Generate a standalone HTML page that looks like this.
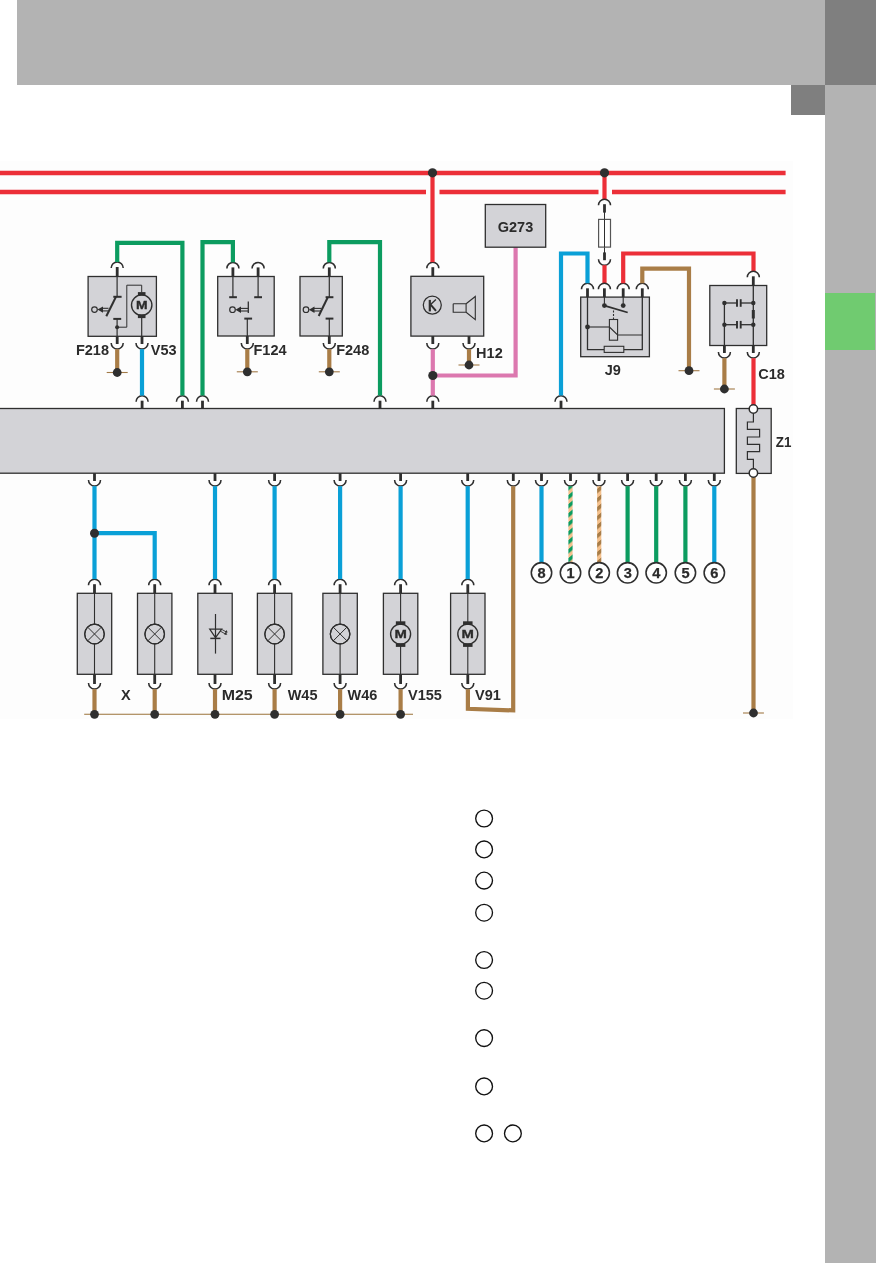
<!DOCTYPE html><html><head><meta charset="utf-8"><style>html,body{margin:0;padding:0;background:#fff;}body{width:893px;height:1263px;position:relative;overflow:hidden;font-family:"Liberation Sans",sans-serif;}</style></head><body><svg width="893" height="1263" viewBox="0 0 893 1263" style="position:absolute;left:0;top:0;will-change:transform" font-family="Liberation Sans, sans-serif">
<rect x="17" y="0" width="808" height="85" fill="#b3b3b3"/>
<rect x="825" y="0" width="51" height="85" fill="#7f7f7f"/>
<rect x="791" y="85" width="34" height="30" fill="#7f7f7f"/>
<rect x="825" y="85" width="51" height="1178" fill="#b3b3b3"/>
<rect x="825" y="293" width="50" height="57" fill="#70cb70"/>
<rect x="0" y="161" width="793" height="558" fill="#fdfdfd"/>
<path d="M0,173 L785.6,173" fill="none" stroke="#ec2f38" stroke-width="4.6" stroke-linejoin="miter" stroke-linecap="butt"/>
<path d="M0,192 L426,192" fill="none" stroke="#ec2f38" stroke-width="4.6" stroke-linejoin="miter" stroke-linecap="butt"/>
<path d="M439.5,192 L598.5,192" fill="none" stroke="#ec2f38" stroke-width="4.6" stroke-linejoin="miter" stroke-linecap="butt"/>
<path d="M612,192 L785.6,192" fill="none" stroke="#ec2f38" stroke-width="4.6" stroke-linejoin="miter" stroke-linecap="butt"/>
<rect x="-2" y="408.5" width="726.4" height="64.69999999999999" fill="#d3d3d7" stroke="#2f2f2f" stroke-width="1.3"/>
<rect x="140.7" y="400.7" width="2.8" height="7.800000000000011" fill="#2f2f2f"/>
<path d="M136.1,401.7 A6.0,6.0 0 0 1 148.1,401.7" fill="none" stroke="#2f2f2f" stroke-width="1.55"/>
<rect x="181.0" y="400.7" width="2.8" height="7.800000000000011" fill="#2f2f2f"/>
<path d="M176.4,401.7 A6.0,6.0 0 0 1 188.4,401.7" fill="none" stroke="#2f2f2f" stroke-width="1.55"/>
<rect x="201.1" y="400.7" width="2.8" height="7.800000000000011" fill="#2f2f2f"/>
<path d="M196.5,401.7 A6.0,6.0 0 0 1 208.5,401.7" fill="none" stroke="#2f2f2f" stroke-width="1.55"/>
<rect x="378.6" y="400.7" width="2.8" height="7.800000000000011" fill="#2f2f2f"/>
<path d="M374.0,401.7 A6.0,6.0 0 0 1 386.0,401.7" fill="none" stroke="#2f2f2f" stroke-width="1.55"/>
<rect x="431.40000000000003" y="400.7" width="2.8" height="7.800000000000011" fill="#2f2f2f"/>
<path d="M426.8,401.7 A6.0,6.0 0 0 1 438.8,401.7" fill="none" stroke="#2f2f2f" stroke-width="1.55"/>
<rect x="559.6" y="400.7" width="2.8" height="7.800000000000011" fill="#2f2f2f"/>
<path d="M555.0,401.7 A6.0,6.0 0 0 1 567.0,401.7" fill="none" stroke="#2f2f2f" stroke-width="1.55"/>
<rect x="93.1" y="473.2" width="2.8" height="7.800000000000011" fill="#2f2f2f"/>
<path d="M88.5,480.0 A6.0,6.0 0 0 0 100.5,480.0" fill="none" stroke="#2f2f2f" stroke-width="1.55"/>
<rect x="213.6" y="473.2" width="2.8" height="7.800000000000011" fill="#2f2f2f"/>
<path d="M209.0,480.0 A6.0,6.0 0 0 0 221.0,480.0" fill="none" stroke="#2f2f2f" stroke-width="1.55"/>
<rect x="273.20000000000005" y="473.2" width="2.8" height="7.800000000000011" fill="#2f2f2f"/>
<path d="M268.6,480.0 A6.0,6.0 0 0 0 280.6,480.0" fill="none" stroke="#2f2f2f" stroke-width="1.55"/>
<rect x="338.70000000000005" y="473.2" width="2.8" height="7.800000000000011" fill="#2f2f2f"/>
<path d="M334.1,480.0 A6.0,6.0 0 0 0 346.1,480.0" fill="none" stroke="#2f2f2f" stroke-width="1.55"/>
<rect x="399.20000000000005" y="473.2" width="2.8" height="7.800000000000011" fill="#2f2f2f"/>
<path d="M394.6,480.0 A6.0,6.0 0 0 0 406.6,480.0" fill="none" stroke="#2f2f2f" stroke-width="1.55"/>
<rect x="466.3" y="473.2" width="2.8" height="7.800000000000011" fill="#2f2f2f"/>
<path d="M461.7,480.0 A6.0,6.0 0 0 0 473.7,480.0" fill="none" stroke="#2f2f2f" stroke-width="1.55"/>
<rect x="511.9" y="473.2" width="2.8" height="7.800000000000011" fill="#2f2f2f"/>
<path d="M507.29999999999995,480.0 A6.0,6.0 0 0 0 519.3,480.0" fill="none" stroke="#2f2f2f" stroke-width="1.55"/>
<rect x="540.1" y="473.2" width="2.8" height="7.800000000000011" fill="#2f2f2f"/>
<path d="M535.5,480.0 A6.0,6.0 0 0 0 547.5,480.0" fill="none" stroke="#2f2f2f" stroke-width="1.55"/>
<rect x="569.1" y="473.2" width="2.8" height="7.800000000000011" fill="#2f2f2f"/>
<path d="M564.5,480.0 A6.0,6.0 0 0 0 576.5,480.0" fill="none" stroke="#2f2f2f" stroke-width="1.55"/>
<rect x="597.6" y="473.2" width="2.8" height="7.800000000000011" fill="#2f2f2f"/>
<path d="M593.0,480.0 A6.0,6.0 0 0 0 605.0,480.0" fill="none" stroke="#2f2f2f" stroke-width="1.55"/>
<rect x="626.2" y="473.2" width="2.8" height="7.800000000000011" fill="#2f2f2f"/>
<path d="M621.6,480.0 A6.0,6.0 0 0 0 633.6,480.0" fill="none" stroke="#2f2f2f" stroke-width="1.55"/>
<rect x="654.8000000000001" y="473.2" width="2.8" height="7.800000000000011" fill="#2f2f2f"/>
<path d="M650.2,480.0 A6.0,6.0 0 0 0 662.2,480.0" fill="none" stroke="#2f2f2f" stroke-width="1.55"/>
<rect x="684.0" y="473.2" width="2.8" height="7.800000000000011" fill="#2f2f2f"/>
<path d="M679.4,480.0 A6.0,6.0 0 0 0 691.4,480.0" fill="none" stroke="#2f2f2f" stroke-width="1.55"/>
<rect x="712.9" y="473.2" width="2.8" height="7.800000000000011" fill="#2f2f2f"/>
<path d="M708.3,480.0 A6.0,6.0 0 0 0 720.3,480.0" fill="none" stroke="#2f2f2f" stroke-width="1.55"/>
<rect x="88.1" y="276.5" width="68.30000000000001" height="59.80000000000001" fill="#d3d3d7" stroke="#2f2f2f" stroke-width="1.3"/>
<rect x="115.8" y="267" width="2.8" height="9.5" fill="#2f2f2f"/>
<path d="M111.2,268 A6.0,6.0 0 0 1 123.2,268" fill="none" stroke="#2f2f2f" stroke-width="1.55"/>
<rect x="115.8" y="336.3" width="2.8" height="7.699999999999989" fill="#2f2f2f"/>
<path d="M111.2,343 A6.0,6.0 0 0 0 123.2,343" fill="none" stroke="#2f2f2f" stroke-width="1.55"/>
<rect x="140.6" y="336.3" width="2.8" height="7.699999999999989" fill="#2f2f2f"/>
<path d="M136.0,343 A6.0,6.0 0 0 0 148.0,343" fill="none" stroke="#2f2f2f" stroke-width="1.55"/>
<path d="M117.2,262 L117.2,242.8 L182.4,242.8 L182.4,395.6" fill="none" stroke="#0c9c60" stroke-width="4.2" stroke-linejoin="miter" stroke-linecap="butt"/>
<path d="M117.2,349.2 L117.2,372.5" fill="none" stroke="#a97d47" stroke-width="4.2" stroke-linejoin="miter" stroke-linecap="butt"/>
<line x1="106.7" y1="372.5" x2="127.7" y2="372.5" stroke="#a27a48" stroke-width="1.1"/>
<circle cx="117.2" cy="372.5" r="4.4" fill="#2f2f2f"/>
<path d="M142.0,349.2 L142.0,395.6" fill="none" stroke="#0aa0d7" stroke-width="4.2" stroke-linejoin="miter" stroke-linecap="butt"/>
<line x1="117.1" y1="276.5" x2="117.1" y2="296.8" stroke="#2f2f2f" stroke-width="1.2"/>
<line x1="113.3" y1="296.8" x2="121.6" y2="296.8" stroke="#2f2f2f" stroke-width="2.0"/>
<line x1="116.0" y1="296.8" x2="106.3" y2="316.3" stroke="#2f2f2f" stroke-width="2.0"/>
<circle cx="94.5" cy="309.6" r="2.8" fill="none" stroke="#2f2f2f" stroke-width="1.2"/>
<path d="M97.4,309.6 L103.0,306.40000000000003 L103.0,312.8 Z" fill="#2f2f2f"/>
<line x1="102.0" y1="308.3" x2="108.5" y2="308.3" stroke="#2f2f2f" stroke-width="1.1"/>
<line x1="102.0" y1="310.90000000000003" x2="108.5" y2="310.90000000000003" stroke="#2f2f2f" stroke-width="1.1"/>
<line x1="113.3" y1="318.9" x2="121.2" y2="318.9" stroke="#2f2f2f" stroke-width="2.0"/>
<line x1="117.1" y1="318.9" x2="117.1" y2="336.3" stroke="#2f2f2f" stroke-width="1.2"/>
<circle cx="117.1" cy="327.2" r="2.0" fill="#2f2f2f"/>
<path d="M117.1,327.2 L126.8,327.2 L126.8,285.2 L141.7,285.2 L141.7,292.5" fill="none" stroke="#2f2f2f" stroke-width="1.0"/>
<circle cx="141.7" cy="305.1" r="10.2" fill="none" stroke="#2f2f2f" stroke-width="1.4"/>
<rect x="137.89999999999998" y="292.1" width="7.6" height="3.6" fill="#2f2f2f"/>
<rect x="137.89999999999998" y="314.5" width="7.6" height="3.6" fill="#2f2f2f"/>
<text x="141.7" y="308.70000000000005" font-size="10" font-weight="bold" text-anchor="middle" fill="#2b2b2b" stroke="#2b2b2b" stroke-width="0.3" textLength="11.6" lengthAdjust="spacingAndGlyphs">M</text>
<line x1="141.7" y1="318" x2="141.7" y2="336.3" stroke="#2f2f2f" stroke-width="1.2"/>
<text class="t" x="109" y="354.5" font-size="14.5" font-weight="bold" text-anchor="end" fill="#2b2b2b">F218</text>
<text class="t" x="150.8" y="354.5" font-size="14.5" font-weight="bold" text-anchor="start" fill="#2b2b2b">V53</text>
<rect x="217.7" y="276.5" width="56.5" height="59.5" fill="#d3d3d7" stroke="#2f2f2f" stroke-width="1.3"/>
<rect x="231.5" y="267.4" width="2.8" height="9.100000000000023" fill="#2f2f2f"/>
<path d="M226.9,268.4 A6.0,6.0 0 0 1 238.9,268.4" fill="none" stroke="#2f2f2f" stroke-width="1.55"/>
<rect x="256.70000000000005" y="267.4" width="2.8" height="9.100000000000023" fill="#2f2f2f"/>
<path d="M252.10000000000002,268.4 A6.0,6.0 0 0 1 264.1,268.4" fill="none" stroke="#2f2f2f" stroke-width="1.55"/>
<rect x="245.9" y="336.0" width="2.8" height="8.0" fill="#2f2f2f"/>
<path d="M241.3,343 A6.0,6.0 0 0 0 253.3,343" fill="none" stroke="#2f2f2f" stroke-width="1.55"/>
<path d="M202.5,395.6 L202.5,242.2 L232.9,242.2 L232.9,262.3" fill="none" stroke="#0c9c60" stroke-width="4.2" stroke-linejoin="miter" stroke-linecap="butt"/>
<path d="M247.3,349.2 L247.3,371.8" fill="none" stroke="#a97d47" stroke-width="4.2" stroke-linejoin="miter" stroke-linecap="butt"/>
<line x1="236.8" y1="371.8" x2="257.8" y2="371.8" stroke="#a27a48" stroke-width="1.1"/>
<circle cx="247.3" cy="371.8" r="4.4" fill="#2f2f2f"/>
<line x1="232.9" y1="276.5" x2="232.9" y2="297.2" stroke="#2f2f2f" stroke-width="1.2"/>
<line x1="229.2" y1="297.2" x2="236.9" y2="297.2" stroke="#2f2f2f" stroke-width="2.0"/>
<line x1="258.1" y1="276.5" x2="258.1" y2="297.2" stroke="#2f2f2f" stroke-width="1.2"/>
<line x1="254.2" y1="297.2" x2="262.0" y2="297.2" stroke="#2f2f2f" stroke-width="2.0"/>
<line x1="248.3" y1="301.6" x2="248.3" y2="313" stroke="#2f2f2f" stroke-width="1.3"/>
<circle cx="232.5" cy="309.7" r="2.8" fill="none" stroke="#2f2f2f" stroke-width="1.2"/>
<path d="M235.4,309.7 L241.0,306.5 L241.0,312.9 Z" fill="#2f2f2f"/>
<line x1="240.0" y1="308.4" x2="248.3" y2="308.4" stroke="#2f2f2f" stroke-width="1.1"/>
<line x1="240.0" y1="311.0" x2="248.3" y2="311.0" stroke="#2f2f2f" stroke-width="1.1"/>
<line x1="244.3" y1="318.6" x2="252.1" y2="318.6" stroke="#2f2f2f" stroke-width="2.0"/>
<line x1="247.3" y1="318.6" x2="247.3" y2="336.0" stroke="#2f2f2f" stroke-width="1.2"/>
<text class="t" x="253.5" y="354.6" font-size="14.5" font-weight="bold" text-anchor="start" fill="#2b2b2b">F124</text>
<rect x="300.0" y="276.5" width="42.30000000000001" height="59.5" fill="#d3d3d7" stroke="#2f2f2f" stroke-width="1.3"/>
<rect x="327.90000000000003" y="267.4" width="2.8" height="9.100000000000023" fill="#2f2f2f"/>
<path d="M323.3,268.4 A6.0,6.0 0 0 1 335.3,268.4" fill="none" stroke="#2f2f2f" stroke-width="1.55"/>
<rect x="327.90000000000003" y="336.0" width="2.8" height="8.0" fill="#2f2f2f"/>
<path d="M323.3,343 A6.0,6.0 0 0 0 335.3,343" fill="none" stroke="#2f2f2f" stroke-width="1.55"/>
<path d="M329.3,262.3 L329.3,242.2 L380,242.2 L380,395.6" fill="none" stroke="#0c9c60" stroke-width="4.2" stroke-linejoin="miter" stroke-linecap="butt"/>
<path d="M329.3,349.2 L329.3,371.8" fill="none" stroke="#a97d47" stroke-width="4.2" stroke-linejoin="miter" stroke-linecap="butt"/>
<line x1="318.8" y1="371.8" x2="339.8" y2="371.8" stroke="#a27a48" stroke-width="1.1"/>
<circle cx="329.3" cy="371.8" r="4.4" fill="#2f2f2f"/>
<line x1="329.3" y1="276.5" x2="329.3" y2="297.2" stroke="#2f2f2f" stroke-width="1.2"/>
<line x1="325.6" y1="297.2" x2="333.4" y2="297.2" stroke="#2f2f2f" stroke-width="2.0"/>
<line x1="327.8" y1="297.2" x2="318.7" y2="316" stroke="#2f2f2f" stroke-width="2.0"/>
<circle cx="306" cy="309.7" r="2.8" fill="none" stroke="#2f2f2f" stroke-width="1.2"/>
<path d="M308.9,309.7 L314.5,306.5 L314.5,312.9 Z" fill="#2f2f2f"/>
<line x1="313.5" y1="308.4" x2="321.5" y2="308.4" stroke="#2f2f2f" stroke-width="1.1"/>
<line x1="313.5" y1="311.0" x2="321.5" y2="311.0" stroke="#2f2f2f" stroke-width="1.1"/>
<line x1="325.6" y1="318.6" x2="333.4" y2="318.6" stroke="#2f2f2f" stroke-width="2.0"/>
<line x1="329.3" y1="318.6" x2="329.3" y2="336.0" stroke="#2f2f2f" stroke-width="1.2"/>
<text class="t" x="336.2" y="354.6" font-size="14.5" font-weight="bold" text-anchor="start" fill="#2b2b2b">F248</text>
<rect x="410.9" y="276.3" width="72.80000000000001" height="59.80000000000001" fill="#d3d3d7" stroke="#2f2f2f" stroke-width="1.3"/>
<rect x="431.40000000000003" y="267.2" width="2.8" height="9.100000000000023" fill="#2f2f2f"/>
<path d="M426.8,268.2 A6.0,6.0 0 0 1 438.8,268.2" fill="none" stroke="#2f2f2f" stroke-width="1.55"/>
<rect x="431.40000000000003" y="336.1" width="2.8" height="7.899999999999977" fill="#2f2f2f"/>
<path d="M426.8,343 A6.0,6.0 0 0 0 438.8,343" fill="none" stroke="#2f2f2f" stroke-width="1.55"/>
<rect x="467.6" y="336.1" width="2.8" height="7.899999999999977" fill="#2f2f2f"/>
<path d="M463.0,343 A6.0,6.0 0 0 0 475.0,343" fill="none" stroke="#2f2f2f" stroke-width="1.55"/>
<path d="M432.5,173 L432.5,262.1" fill="none" stroke="#ec2f38" stroke-width="4.2" stroke-linejoin="miter" stroke-linecap="butt"/>
<path d="M432.8,349.2 L432.8,395.6" fill="none" stroke="#dc78af" stroke-width="4.2" stroke-linejoin="miter" stroke-linecap="butt"/>
<path d="M432.8,375.5 L515.6,375.5 L515.6,247.2" fill="none" stroke="#dc78af" stroke-width="4.2" stroke-linejoin="miter" stroke-linecap="butt"/>
<circle cx="432.8" cy="375.5" r="4.6" fill="#2f2f2f"/>
<path d="M469.0,349.2 L469.0,365" fill="none" stroke="#a97d47" stroke-width="4.2" stroke-linejoin="miter" stroke-linecap="butt"/>
<line x1="458.5" y1="365" x2="479.5" y2="365" stroke="#a27a48" stroke-width="1.1"/>
<circle cx="469.0" cy="365" r="4.4" fill="#2f2f2f"/>
<circle cx="432.3" cy="305.1" r="9.0" fill="none" stroke="#2f2f2f" stroke-width="1.25"/>
<rect x="428.7" y="299.9" width="2.2" height="11.5" fill="#2f2f2f"/>
<line x1="430.6" y1="304.6" x2="435.9" y2="299.4" stroke="#2f2f2f" stroke-width="1.4"/>
<line x1="430.6" y1="304.6" x2="436.0" y2="310.8" stroke="#2f2f2f" stroke-width="2.0"/>
<path d="M453.2,303.8 L466.1,303.8 L466.1,312.3 L453.2,312.3 L453.2,303.8" fill="none" stroke="#2f2f2f" stroke-width="1.1"/>
<path d="M466.1,303.8 L475.3,296.5 L475.3,319.6 L466.1,312.3" fill="none" stroke="#2f2f2f" stroke-width="1.1"/>
<text class="t" x="476.1" y="357.5" font-size="14.5" font-weight="bold" text-anchor="start" fill="#2b2b2b">H12</text>
<rect x="485.3" y="204.5" width="60.400000000000034" height="42.69999999999999" fill="#d3d3d7" stroke="#2f2f2f" stroke-width="1.3"/>
<text class="t" x="515.5" y="232.2" font-size="14.5" font-weight="bold" text-anchor="middle" fill="#2b2b2b">G273</text>
<path d="M604.5,173 L604.5,199.1" fill="none" stroke="#ec2f38" stroke-width="4.2" stroke-linejoin="miter" stroke-linecap="butt"/>
<rect x="603.1" y="204.2" width="2.8" height="8.400000000000006" fill="#2f2f2f"/>
<path d="M598.5,205.2 A6.0,6.0 0 0 1 610.5,205.2" fill="none" stroke="#2f2f2f" stroke-width="1.55"/>
<line x1="604.5" y1="212" x2="604.5" y2="253" stroke="#2f2f2f" stroke-width="1.0"/>
<rect x="598.6" y="219.4" width="11.9" height="27.7" fill="#ffffff" stroke="#555" stroke-width="1.2"/>
<line x1="604.5" y1="219.4" x2="604.5" y2="247.1" stroke="#2f2f2f" stroke-width="1.0"/>
<rect x="603.1" y="252.4" width="2.8" height="7.799999999999983" fill="#2f2f2f"/>
<path d="M598.5,259.2 A6.0,6.0 0 0 0 610.5,259.2" fill="none" stroke="#2f2f2f" stroke-width="1.55"/>
<path d="M604.5,265.2 L604.5,283.2" fill="none" stroke="#ec2f38" stroke-width="4.2" stroke-linejoin="miter" stroke-linecap="butt"/>
<rect x="580.7" y="297.1" width="68.69999999999993" height="59.599999999999966" fill="#d3d3d7" stroke="#2f2f2f" stroke-width="1.3"/>
<rect x="586.1" y="288.3" width="2.8" height="8.800000000000011" fill="#2f2f2f"/>
<path d="M581.5,289.3 A6.0,6.0 0 0 1 593.5,289.3" fill="none" stroke="#2f2f2f" stroke-width="1.55"/>
<rect x="603.0" y="288.3" width="2.8" height="8.800000000000011" fill="#2f2f2f"/>
<path d="M598.4,289.3 A6.0,6.0 0 0 1 610.4,289.3" fill="none" stroke="#2f2f2f" stroke-width="1.55"/>
<rect x="621.8000000000001" y="288.3" width="2.8" height="8.800000000000011" fill="#2f2f2f"/>
<path d="M617.2,289.3 A6.0,6.0 0 0 1 629.2,289.3" fill="none" stroke="#2f2f2f" stroke-width="1.55"/>
<rect x="640.9" y="288.3" width="2.8" height="8.800000000000011" fill="#2f2f2f"/>
<path d="M636.3,289.3 A6.0,6.0 0 0 1 648.3,289.3" fill="none" stroke="#2f2f2f" stroke-width="1.55"/>
<path d="M561,395.6 L561,253.5 L587.5,253.5 L587.5,283.2" fill="none" stroke="#0aa0d7" stroke-width="4.2" stroke-linejoin="miter" stroke-linecap="butt"/>
<path d="M623.2,283.2 L623.2,253.5 L753.5,253.5 L753.5,271.2" fill="none" stroke="#ec2f38" stroke-width="4.2" stroke-linejoin="miter" stroke-linecap="butt"/>
<path d="M642.3,283.2 L642.3,268.6 L689,268.6 L689,370.7" fill="none" stroke="#a97d47" stroke-width="4.2" stroke-linejoin="miter" stroke-linecap="butt"/>
<line x1="678.5" y1="370.7" x2="699.5" y2="370.7" stroke="#a27a48" stroke-width="1.1"/>
<circle cx="689" cy="370.7" r="4.4" fill="#2f2f2f"/>
<path d="M587.5,297.1 L587.5,349.6 L604.2,349.6" fill="none" stroke="#2f2f2f" stroke-width="1.3"/>
<path d="M623.8,349.6 L642.3,349.6 L642.3,297.1" fill="none" stroke="#2f2f2f" stroke-width="1.3"/>
<rect x="604.2" y="346.3" width="19.6" height="6.1" fill="#d3d3d7" stroke="#2f2f2f" stroke-width="1.1"/>
<circle cx="587.5" cy="327" r="2.4" fill="#2f2f2f"/>
<line x1="587.5" y1="327" x2="609.4" y2="327" stroke="#2f2f2f" stroke-width="1.1"/>
<rect x="609.4" y="319.5" width="8.2" height="20.7" fill="#d3d3d7" stroke="#2f2f2f" stroke-width="1.1"/>
<path d="M609.4,327 L617.6,335 L642.3,335" fill="none" stroke="#2f2f2f" stroke-width="1.1"/>
<line x1="613.5" y1="319.5" x2="613.5" y2="308" stroke="#2f2f2f" stroke-width="1.1" stroke-dasharray="2,1.5"/>
<line x1="604.4" y1="297.1" x2="604.4" y2="305.6" stroke="#2f2f2f" stroke-width="1.1"/>
<line x1="623.2" y1="297.1" x2="623.2" y2="305.6" stroke="#2f2f2f" stroke-width="1.1"/>
<circle cx="604.4" cy="305.6" r="2.4" fill="#2f2f2f"/>
<circle cx="623.2" cy="305.6" r="2.4" fill="#2f2f2f"/>
<line x1="604.4" y1="305.6" x2="627.7" y2="312.5" stroke="#2f2f2f" stroke-width="1.8"/>
<text class="t" x="612.8" y="374.5" font-size="14.5" font-weight="bold" text-anchor="middle" fill="#2b2b2b">J9</text>
<rect x="709.8" y="285.5" width="56.90000000000009" height="60.0" fill="#d3d3d7" stroke="#2f2f2f" stroke-width="1.3"/>
<rect x="751.9" y="276.3" width="2.8" height="9.199999999999989" fill="#2f2f2f"/>
<path d="M747.3,277.3 A6.0,6.0 0 0 1 759.3,277.3" fill="none" stroke="#2f2f2f" stroke-width="1.55"/>
<rect x="723.0" y="345.5" width="2.8" height="7.5" fill="#2f2f2f"/>
<path d="M718.4,352 A6.0,6.0 0 0 0 730.4,352" fill="none" stroke="#2f2f2f" stroke-width="1.55"/>
<rect x="751.9" y="345.5" width="2.8" height="7.5" fill="#2f2f2f"/>
<path d="M747.3,352 A6.0,6.0 0 0 0 759.3,352" fill="none" stroke="#2f2f2f" stroke-width="1.55"/>
<path d="M724.4,358.2 L724.4,389" fill="none" stroke="#a97d47" stroke-width="4.2" stroke-linejoin="miter" stroke-linecap="butt"/>
<line x1="713.9" y1="389" x2="734.9" y2="389" stroke="#a27a48" stroke-width="1.1"/>
<circle cx="724.4" cy="389" r="4.4" fill="#2f2f2f"/>
<path d="M753.5,358.2 L753.5,405" fill="none" stroke="#ec2f38" stroke-width="4.2" stroke-linejoin="miter" stroke-linecap="butt"/>
<line x1="753.3" y1="285.5" x2="753.3" y2="345.5" stroke="#2f2f2f" stroke-width="1.3"/>
<line x1="724.4" y1="303" x2="724.4" y2="345.5" stroke="#2f2f2f" stroke-width="1.3"/>
<line x1="724.4" y1="303" x2="737" y2="303" stroke="#2f2f2f" stroke-width="1.3"/>
<line x1="740.7" y1="303" x2="753.3" y2="303" stroke="#2f2f2f" stroke-width="1.3"/>
<line x1="737" y1="299.2" x2="737" y2="306.8" stroke="#2f2f2f" stroke-width="1.9"/>
<line x1="740.7" y1="299.2" x2="740.7" y2="306.8" stroke="#2f2f2f" stroke-width="1.9"/>
<circle cx="724.4" cy="303" r="2.2" fill="#2f2f2f"/>
<circle cx="753.3" cy="303" r="2.2" fill="#2f2f2f"/>
<line x1="724.4" y1="324.7" x2="737" y2="324.7" stroke="#2f2f2f" stroke-width="1.3"/>
<line x1="740.7" y1="324.7" x2="753.3" y2="324.7" stroke="#2f2f2f" stroke-width="1.3"/>
<line x1="737" y1="320.9" x2="737" y2="328.5" stroke="#2f2f2f" stroke-width="1.9"/>
<line x1="740.7" y1="320.9" x2="740.7" y2="328.5" stroke="#2f2f2f" stroke-width="1.9"/>
<circle cx="724.4" cy="324.7" r="2.2" fill="#2f2f2f"/>
<circle cx="753.3" cy="324.7" r="2.2" fill="#2f2f2f"/>
<rect x="751.8" y="310" width="3" height="8.5" fill="#2f2f2f"/>
<text class="t" x="758.3" y="378.8" font-size="14.5" font-weight="bold" text-anchor="start" fill="#2b2b2b">C18</text>
<rect x="736.3" y="408.5" width="34.90000000000009" height="64.89999999999998" fill="#d3d3d7" stroke="#2f2f2f" stroke-width="1.3"/>
<path d="M753.4,413 L753.4,422 L747.4,422 L747.4,429.3 L759.6,429.3 L759.6,437 L747.4,437 L747.4,444.4 L759.6,444.4 L759.6,451.6 L747.4,451.6 L747.4,459.3 L753.4,459.3 L753.4,469" fill="none" stroke="#2f2f2f" stroke-width="1.2"/>
<path d="M753.5,477 L753.5,713" fill="none" stroke="#a97d47" stroke-width="4.2" stroke-linejoin="miter" stroke-linecap="butt"/>
<circle cx="753.4" cy="409" r="4.2" fill="#fff" stroke="#2f2f2f" stroke-width="1.5"/>
<circle cx="753.4" cy="473" r="4.2" fill="#fff" stroke="#2f2f2f" stroke-width="1.5"/>
<line x1="743.0" y1="713" x2="764.0" y2="713" stroke="#a27a48" stroke-width="1.1"/>
<circle cx="753.5" cy="713" r="4.4" fill="#2f2f2f"/>
<text class="t" x="775.8" y="446.8" font-size="14.5" font-weight="bold" text-anchor="start" fill="#2b2b2b" textLength="15.6" lengthAdjust="spacingAndGlyphs">Z1</text>
<rect x="77.3" y="593.3" width="34.400000000000006" height="81.0" fill="#d3d3d7" stroke="#2f2f2f" stroke-width="1.3"/>
<rect x="93.1" y="584.2" width="2.8" height="9.099999999999909" fill="#2f2f2f"/>
<path d="M88.5,585.2 A6.0,6.0 0 0 1 100.5,585.2" fill="none" stroke="#2f2f2f" stroke-width="1.55"/>
<rect x="93.1" y="674.3" width="2.8" height="9.700000000000045" fill="#2f2f2f"/>
<path d="M88.5,683.0 A6.0,6.0 0 0 0 100.5,683.0" fill="none" stroke="#2f2f2f" stroke-width="1.55"/>
<line x1="94.5" y1="593.3" x2="94.5" y2="674.3" stroke="#2f2f2f" stroke-width="1.1"/>
<circle cx="94.5" cy="634" r="9.8" fill="#d3d3d7" stroke="#2f2f2f" stroke-width="1.2"/>
<circle cx="94.5" cy="634" r="9.8" fill="none" stroke="#2f2f2f" stroke-width="1.2"/>
<line x1="87.57042" y1="627.07042" x2="101.42958" y2="640.92958" stroke="#2f2f2f" stroke-width="1.0"/>
<line x1="87.57042" y1="640.92958" x2="101.42958" y2="627.07042" stroke="#2f2f2f" stroke-width="1.0"/>
<rect x="137.5" y="593.3" width="34.39999999999998" height="81.0" fill="#d3d3d7" stroke="#2f2f2f" stroke-width="1.3"/>
<rect x="153.29999999999998" y="584.2" width="2.8" height="9.099999999999909" fill="#2f2f2f"/>
<path d="M148.7,585.2 A6.0,6.0 0 0 1 160.7,585.2" fill="none" stroke="#2f2f2f" stroke-width="1.55"/>
<rect x="153.29999999999998" y="674.3" width="2.8" height="9.700000000000045" fill="#2f2f2f"/>
<path d="M148.7,683.0 A6.0,6.0 0 0 0 160.7,683.0" fill="none" stroke="#2f2f2f" stroke-width="1.55"/>
<line x1="154.7" y1="593.3" x2="154.7" y2="674.3" stroke="#2f2f2f" stroke-width="1.1"/>
<circle cx="154.7" cy="634" r="9.8" fill="#d3d3d7" stroke="#2f2f2f" stroke-width="1.2"/>
<circle cx="154.7" cy="634" r="9.8" fill="none" stroke="#2f2f2f" stroke-width="1.2"/>
<line x1="147.77042" y1="627.07042" x2="161.62957999999998" y2="640.92958" stroke="#2f2f2f" stroke-width="1.0"/>
<line x1="147.77042" y1="640.92958" x2="161.62957999999998" y2="627.07042" stroke="#2f2f2f" stroke-width="1.0"/>
<rect x="197.8" y="593.3" width="34.39999999999998" height="81.0" fill="#d3d3d7" stroke="#2f2f2f" stroke-width="1.3"/>
<rect x="213.6" y="584.2" width="2.8" height="9.099999999999909" fill="#2f2f2f"/>
<path d="M209.0,585.2 A6.0,6.0 0 0 1 221.0,585.2" fill="none" stroke="#2f2f2f" stroke-width="1.55"/>
<rect x="213.6" y="674.3" width="2.8" height="9.700000000000045" fill="#2f2f2f"/>
<path d="M209.0,683.0 A6.0,6.0 0 0 0 221.0,683.0" fill="none" stroke="#2f2f2f" stroke-width="1.55"/>
<line x1="215.5" y1="614" x2="215.5" y2="653.6" stroke="#2f2f2f" stroke-width="1.2"/>
<path d="M209.7,629.2 L221.7,629.2 L215.5,637.6 Z" fill="none" stroke="#2f2f2f" stroke-width="1.2" stroke-linejoin="miter"/>
<line x1="210.3" y1="638.4" x2="220.5" y2="638.4" stroke="#2f2f2f" stroke-width="1.5"/>
<line x1="220.1" y1="631.0" x2="226.0" y2="634.3" stroke="#2f2f2f" stroke-width="0.9"/>
<line x1="222.1" y1="629.6" x2="226.9" y2="632.3" stroke="#2f2f2f" stroke-width="0.9"/>
<path d="M227.3,634.8 L224.1,634.6 L225.9,632.0 Z" fill="#2f2f2f"/>
<path d="M227.7,632.6 L224.9,632.4 L226.5,630.0 Z" fill="#2f2f2f"/>
<rect x="257.40000000000003" y="593.3" width="34.39999999999998" height="81.0" fill="#d3d3d7" stroke="#2f2f2f" stroke-width="1.3"/>
<rect x="273.20000000000005" y="584.2" width="2.8" height="9.099999999999909" fill="#2f2f2f"/>
<path d="M268.6,585.2 A6.0,6.0 0 0 1 280.6,585.2" fill="none" stroke="#2f2f2f" stroke-width="1.55"/>
<rect x="273.20000000000005" y="674.3" width="2.8" height="9.700000000000045" fill="#2f2f2f"/>
<path d="M268.6,683.0 A6.0,6.0 0 0 0 280.6,683.0" fill="none" stroke="#2f2f2f" stroke-width="1.55"/>
<line x1="274.6" y1="593.3" x2="274.6" y2="674.3" stroke="#2f2f2f" stroke-width="1.1"/>
<circle cx="274.6" cy="634" r="9.8" fill="#d3d3d7" stroke="#2f2f2f" stroke-width="1.2"/>
<circle cx="274.6" cy="634" r="9.8" fill="none" stroke="#2f2f2f" stroke-width="1.2"/>
<line x1="267.67042000000004" y1="627.07042" x2="281.52958" y2="640.92958" stroke="#2f2f2f" stroke-width="1.0"/>
<line x1="267.67042000000004" y1="640.92958" x2="281.52958" y2="627.07042" stroke="#2f2f2f" stroke-width="1.0"/>
<rect x="322.90000000000003" y="593.3" width="34.39999999999998" height="81.0" fill="#d3d3d7" stroke="#2f2f2f" stroke-width="1.3"/>
<rect x="338.70000000000005" y="584.2" width="2.8" height="9.099999999999909" fill="#2f2f2f"/>
<path d="M334.1,585.2 A6.0,6.0 0 0 1 346.1,585.2" fill="none" stroke="#2f2f2f" stroke-width="1.55"/>
<rect x="338.70000000000005" y="674.3" width="2.8" height="9.700000000000045" fill="#2f2f2f"/>
<path d="M334.1,683.0 A6.0,6.0 0 0 0 346.1,683.0" fill="none" stroke="#2f2f2f" stroke-width="1.55"/>
<line x1="340.1" y1="593.3" x2="340.1" y2="674.3" stroke="#2f2f2f" stroke-width="1.1"/>
<circle cx="340.1" cy="634" r="9.8" fill="#d3d3d7" stroke="#2f2f2f" stroke-width="1.2"/>
<circle cx="340.1" cy="634" r="9.8" fill="none" stroke="#2f2f2f" stroke-width="1.2"/>
<line x1="333.17042000000004" y1="627.07042" x2="347.02958" y2="640.92958" stroke="#2f2f2f" stroke-width="1.0"/>
<line x1="333.17042000000004" y1="640.92958" x2="347.02958" y2="627.07042" stroke="#2f2f2f" stroke-width="1.0"/>
<rect x="383.40000000000003" y="593.3" width="34.39999999999998" height="81.0" fill="#d3d3d7" stroke="#2f2f2f" stroke-width="1.3"/>
<rect x="399.20000000000005" y="584.2" width="2.8" height="9.099999999999909" fill="#2f2f2f"/>
<path d="M394.6,585.2 A6.0,6.0 0 0 1 406.6,585.2" fill="none" stroke="#2f2f2f" stroke-width="1.55"/>
<rect x="399.20000000000005" y="674.3" width="2.8" height="9.700000000000045" fill="#2f2f2f"/>
<path d="M394.6,683.0 A6.0,6.0 0 0 0 406.6,683.0" fill="none" stroke="#2f2f2f" stroke-width="1.55"/>
<line x1="400.6" y1="593.3" x2="400.6" y2="674.3" stroke="#2f2f2f" stroke-width="1.1"/>
<circle cx="400.6" cy="634.1" r="10" fill="#d3d3d7"/>
<circle cx="400.6" cy="634.1" r="10" fill="none" stroke="#2f2f2f" stroke-width="1.4"/>
<rect x="395.85" y="621.3" width="9.5" height="3.6" fill="#2f2f2f"/>
<rect x="395.85" y="643.3000000000001" width="9.5" height="3.6" fill="#2f2f2f"/>
<text x="400.6" y="638.0600000000001" font-size="11" font-weight="bold" text-anchor="middle" fill="#2b2b2b" stroke="#2b2b2b" stroke-width="0.3" textLength="12.4" lengthAdjust="spacingAndGlyphs">M</text>
<rect x="450.6" y="593.3" width="34.39999999999998" height="81.0" fill="#d3d3d7" stroke="#2f2f2f" stroke-width="1.3"/>
<rect x="466.40000000000003" y="584.2" width="2.8" height="9.099999999999909" fill="#2f2f2f"/>
<path d="M461.8,585.2 A6.0,6.0 0 0 1 473.8,585.2" fill="none" stroke="#2f2f2f" stroke-width="1.55"/>
<rect x="466.40000000000003" y="674.3" width="2.8" height="9.700000000000045" fill="#2f2f2f"/>
<path d="M461.8,683.0 A6.0,6.0 0 0 0 473.8,683.0" fill="none" stroke="#2f2f2f" stroke-width="1.55"/>
<line x1="467.8" y1="593.3" x2="467.8" y2="674.3" stroke="#2f2f2f" stroke-width="1.1"/>
<circle cx="467.8" cy="634.1" r="10" fill="#d3d3d7"/>
<circle cx="467.8" cy="634.1" r="10" fill="none" stroke="#2f2f2f" stroke-width="1.4"/>
<rect x="463.05" y="621.3" width="9.5" height="3.6" fill="#2f2f2f"/>
<rect x="463.05" y="643.3000000000001" width="9.5" height="3.6" fill="#2f2f2f"/>
<text x="467.8" y="638.0600000000001" font-size="11" font-weight="bold" text-anchor="middle" fill="#2b2b2b" stroke="#2b2b2b" stroke-width="0.3" textLength="12.4" lengthAdjust="spacingAndGlyphs">M</text>
<path d="M94.5,486.2 L94.5,579.1" fill="none" stroke="#0aa0d7" stroke-width="4.2" stroke-linejoin="miter" stroke-linecap="butt"/>
<path d="M94.5,533.2 L154.7,533.2 L154.7,579.1" fill="none" stroke="#0aa0d7" stroke-width="4.2" stroke-linejoin="miter" stroke-linecap="butt"/>
<circle cx="94.5" cy="533.2" r="4.5" fill="#2f2f2f"/>
<path d="M215.0,486.2 L215.0,579.1" fill="none" stroke="#0aa0d7" stroke-width="4.2" stroke-linejoin="miter" stroke-linecap="butt"/>
<path d="M274.6,486.2 L274.6,579.1" fill="none" stroke="#0aa0d7" stroke-width="4.2" stroke-linejoin="miter" stroke-linecap="butt"/>
<path d="M340.1,486.2 L340.1,579.1" fill="none" stroke="#0aa0d7" stroke-width="4.2" stroke-linejoin="miter" stroke-linecap="butt"/>
<path d="M400.6,486.2 L400.6,579.1" fill="none" stroke="#0aa0d7" stroke-width="4.2" stroke-linejoin="miter" stroke-linecap="butt"/>
<path d="M467.7,486.2 L467.7,579.1" fill="none" stroke="#0aa0d7" stroke-width="4.2" stroke-linejoin="miter" stroke-linecap="butt"/>
<path d="M94.5,689.2 L94.5,714.3" fill="none" stroke="#a97d47" stroke-width="4.2" stroke-linejoin="miter" stroke-linecap="butt"/>
<path d="M154.7,689.2 L154.7,714.3" fill="none" stroke="#a97d47" stroke-width="4.2" stroke-linejoin="miter" stroke-linecap="butt"/>
<path d="M215.0,689.2 L215.0,714.3" fill="none" stroke="#a97d47" stroke-width="4.2" stroke-linejoin="miter" stroke-linecap="butt"/>
<path d="M274.6,689.2 L274.6,714.3" fill="none" stroke="#a97d47" stroke-width="4.2" stroke-linejoin="miter" stroke-linecap="butt"/>
<path d="M340.1,689.2 L340.1,714.3" fill="none" stroke="#a97d47" stroke-width="4.2" stroke-linejoin="miter" stroke-linecap="butt"/>
<path d="M400.6,689.2 L400.6,714.3" fill="none" stroke="#a97d47" stroke-width="4.2" stroke-linejoin="miter" stroke-linecap="butt"/>
<line x1="84.2" y1="714.3" x2="413" y2="714.3" stroke="#9a7238" stroke-width="1.05"/>
<circle cx="94.5" cy="714.3" r="4.4" fill="#2f2f2f"/>
<circle cx="154.7" cy="714.3" r="4.4" fill="#2f2f2f"/>
<circle cx="215.0" cy="714.3" r="4.4" fill="#2f2f2f"/>
<circle cx="274.6" cy="714.3" r="4.4" fill="#2f2f2f"/>
<circle cx="340.1" cy="714.3" r="4.4" fill="#2f2f2f"/>
<circle cx="400.6" cy="714.3" r="4.4" fill="#2f2f2f"/>
<path d="M467.9,689.2 L467.9,708.8 L513.2,710.4 L513.2,486.2" fill="none" stroke="#a97d47" stroke-width="4.2" stroke-linejoin="miter" stroke-linecap="butt"/>
<text class="t" x="121" y="700.2" font-size="14.5" font-weight="bold" text-anchor="start" fill="#2b2b2b">X</text>
<text class="t" x="221.7" y="700.2" font-size="14.5" font-weight="bold" text-anchor="start" fill="#2b2b2b" textLength="31" lengthAdjust="spacingAndGlyphs">M25</text>
<text class="t" x="287.7" y="700.2" font-size="14.5" font-weight="bold" text-anchor="start" fill="#2b2b2b">W45</text>
<text class="t" x="347.5" y="700.2" font-size="14.5" font-weight="bold" text-anchor="start" fill="#2b2b2b">W46</text>
<text class="t" x="408" y="700.2" font-size="14.5" font-weight="bold" text-anchor="start" fill="#2b2b2b">V155</text>
<text class="t" x="475" y="700.2" font-size="14.5" font-weight="bold" text-anchor="start" fill="#2b2b2b">V91</text>
<defs><pattern id="stg" patternUnits="userSpaceOnUse" width="6" height="9" patternTransform="skewY(-40)"><rect width="6" height="9" fill="#0c9c60"/><rect y="4.5" width="6" height="4.5" fill="#f4c08c"/></pattern><pattern id="stb" patternUnits="userSpaceOnUse" width="6" height="9" patternTransform="skewY(-40)"><rect width="6" height="9" fill="#a97d47"/><rect y="4.5" width="6" height="4.5" fill="#f4c08c"/></pattern></defs>
<path d="M541.5,486.2 L541.5,562.5" fill="none" stroke="#0aa0d7" stroke-width="4.2" stroke-linejoin="miter" stroke-linecap="butt"/>
<circle cx="541.5" cy="572.8" r="10.2" fill="#fff" stroke="#2f2f2f" stroke-width="1.55"/>
<text x="541.6" y="578.2" font-size="14.6" font-weight="bold" text-anchor="middle" fill="#2b2b2b" stroke="#2b2b2b" stroke-width="0.25">8</text>
<rect x="568.4" y="486.2" width="4.2" height="76.3" fill="url(#stg)"/>
<circle cx="570.5" cy="572.8" r="10.2" fill="#fff" stroke="#2f2f2f" stroke-width="1.55"/>
<text x="570.6" y="578.2" font-size="14.6" font-weight="bold" text-anchor="middle" fill="#2b2b2b" stroke="#2b2b2b" stroke-width="0.25">1</text>
<rect x="597.1" y="486.2" width="4.2" height="76.3" fill="url(#stb)"/>
<circle cx="599.2" cy="572.8" r="10.2" fill="#fff" stroke="#2f2f2f" stroke-width="1.55"/>
<text x="599.3000000000001" y="578.2" font-size="14.6" font-weight="bold" text-anchor="middle" fill="#2b2b2b" stroke="#2b2b2b" stroke-width="0.25">2</text>
<path d="M627.6,486.2 L627.6,562.5" fill="none" stroke="#0c9c60" stroke-width="4.2" stroke-linejoin="miter" stroke-linecap="butt"/>
<circle cx="627.6" cy="572.8" r="10.2" fill="#fff" stroke="#2f2f2f" stroke-width="1.55"/>
<text x="627.7" y="578.2" font-size="14.6" font-weight="bold" text-anchor="middle" fill="#2b2b2b" stroke="#2b2b2b" stroke-width="0.25">3</text>
<path d="M656.2,486.2 L656.2,562.5" fill="none" stroke="#0c9c60" stroke-width="4.2" stroke-linejoin="miter" stroke-linecap="butt"/>
<circle cx="656.2" cy="572.8" r="10.2" fill="#fff" stroke="#2f2f2f" stroke-width="1.55"/>
<text x="656.3000000000001" y="578.2" font-size="14.6" font-weight="bold" text-anchor="middle" fill="#2b2b2b" stroke="#2b2b2b" stroke-width="0.25">4</text>
<path d="M685.4,486.2 L685.4,562.5" fill="none" stroke="#0c9c60" stroke-width="4.2" stroke-linejoin="miter" stroke-linecap="butt"/>
<circle cx="685.4" cy="572.8" r="10.2" fill="#fff" stroke="#2f2f2f" stroke-width="1.55"/>
<text x="685.5" y="578.2" font-size="14.6" font-weight="bold" text-anchor="middle" fill="#2b2b2b" stroke="#2b2b2b" stroke-width="0.25">5</text>
<path d="M714.3,486.2 L714.3,562.5" fill="none" stroke="#0aa0d7" stroke-width="4.2" stroke-linejoin="miter" stroke-linecap="butt"/>
<circle cx="714.3" cy="572.8" r="10.2" fill="#fff" stroke="#2f2f2f" stroke-width="1.55"/>
<text x="714.4" y="578.2" font-size="14.6" font-weight="bold" text-anchor="middle" fill="#2b2b2b" stroke="#2b2b2b" stroke-width="0.25">6</text>
<circle cx="432.5" cy="172.8" r="4.6" fill="#2f2f2f"/>
<circle cx="604.5" cy="172.8" r="4.6" fill="#2f2f2f"/>
<circle cx="484.1" cy="818.5" r="8.4" fill="none" stroke="#111" stroke-width="1.35"/>
<circle cx="484.1" cy="849.4" r="8.4" fill="none" stroke="#111" stroke-width="1.35"/>
<circle cx="484.1" cy="880.6" r="8.4" fill="none" stroke="#111" stroke-width="1.35"/>
<circle cx="484.1" cy="912.7" r="8.4" fill="none" stroke="#111" stroke-width="1.35"/>
<circle cx="484.1" cy="960" r="8.4" fill="none" stroke="#111" stroke-width="1.35"/>
<circle cx="484.1" cy="990.7" r="8.4" fill="none" stroke="#111" stroke-width="1.35"/>
<circle cx="484.1" cy="1038.1" r="8.4" fill="none" stroke="#111" stroke-width="1.35"/>
<circle cx="484.1" cy="1086.4" r="8.4" fill="none" stroke="#111" stroke-width="1.35"/>
<circle cx="484.1" cy="1133.4" r="8.4" fill="none" stroke="#111" stroke-width="1.35"/>
<circle cx="512.9" cy="1133.4" r="8.4" fill="none" stroke="#111" stroke-width="1.35"/>
</svg></body></html>
